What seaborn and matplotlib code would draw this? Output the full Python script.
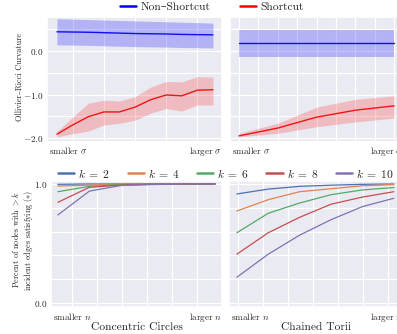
import numpy as np
import pandas as pd
import matplotlib
matplotlib.use("Agg")
import matplotlib.pyplot as plt
from matplotlib.lines import Line2D
import seaborn as sns

# ---------------- data ----------------
# top-left: Ollivier-Ricci curvature, 11 sigma steps
tl_idx = list(range(11))
tl_non_mean = [0.44, 0.435, 0.43, 0.42, 0.41, 0.40, 0.395, 0.39, 0.38, 0.375, 0.37]
tl_non_hi = [0.74, 0.73, 0.72, 0.71, 0.70, 0.69, 0.68, 0.67, 0.66, 0.65, 0.64]
tl_non_lo = [0.14, 0.135, 0.13, 0.12, 0.11, 0.10, 0.095, 0.09, 0.08, 0.075, 0.07]
tl_sc_mean = [-1.91, -1.70, -1.51, -1.40, -1.40, -1.29, -1.12, -1.01, -1.03, -0.90, -0.89]
tl_sc_hi = [-1.85, -1.52, -1.20, -1.13, -1.15, -1.05, -0.83, -0.70, -0.71, -0.59, -0.60]
tl_sc_lo = [-1.97, -1.90, -1.84, -1.70, -1.66, -1.59, -1.43, -1.32, -1.38, -1.24, -1.24]

# top-right: 5 sigma steps
tr_idx = list(range(5))
tr_non_mean = [0.18, 0.18, 0.18, 0.18, 0.18]
tr_non_hi = [0.48, 0.48, 0.48, 0.48, 0.48]
tr_non_lo = [-0.14, -0.14, -0.14, -0.14, -0.14]
tr_sc_mean = [-1.95, -1.77, -1.52, -1.36, -1.26]
tr_sc_hi = [-1.89, -1.66, -1.29, -1.11, -1.03]
tr_sc_lo = [-1.97, -1.89, -1.74, -1.63, -1.54]

# bottom: percent of nodes, 6 n steps
n_idx = list(range(6))
k_values = [2, 4, 6, 8, 10]
circles = {
    2: [0.997, 1.0, 1.0, 1.0, 1.0, 1.0],
    4: [0.983, 0.99, 1.0, 1.0, 1.0, 1.0],
    6: [0.935, 0.98, 0.995, 1.0, 1.0, 1.0],
    8: [0.846, 0.972, 0.99, 0.998, 1.0, 1.0],
    10: [0.74, 0.94, 0.987, 0.995, 1.0, 1.0],
}
torii = {
    2: [0.916, 0.957, 0.98, 0.99, 0.997, 1.0],
    4: [0.773, 0.868, 0.935, 0.96, 0.985, 0.995],
    6: [0.59, 0.754, 0.84, 0.91, 0.95, 0.97],
    8: [0.41, 0.59, 0.72, 0.83, 0.89, 0.935],
    10: [0.216, 0.41, 0.57, 0.70, 0.81, 0.88],
}
series_labels = ["Non\u2013Shortcut", "Shortcut"]
panel_titles = ["Concentric Circles", "Chained Torii"]

# ---------------- style ----------------
sns.set_theme(style="darkgrid")
plt.rcParams["font.family"] = ["cmr10", "DejaVu Serif"]
plt.rcParams["mathtext.fontset"] = "cm"
plt.rcParams["axes.unicode_minus"] = False
plt.rcParams["grid.linewidth"] = 0.9

W, H = 397, 334
fig = plt.figure(figsize=(W / 100, H / 100), dpi=100)


def ax_px(x0, x1, y0, y1):
    return fig.add_axes([x0 / W, 1 - y1 / H, (x1 - x0) / W, (y1 - y0) / H])


ax_tl = ax_px(47, 222, 17, 142)
ax_tr = ax_px(230, 403, 17, 142)
ax_bl = ax_px(51, 222, 181, 307)
ax_br = ax_px(229, 403, 181, 307)

TICK_FS = 6.6
BLUE = "#1010ee"
RED = "#ee1515"


def band_panel(ax, x, nm, nh, nl, sm, sh, sl):
    ax.fill_between(x, nl, nh, color="blue", alpha=0.24, lw=0)
    ax.fill_between(x, sl, sh, color="red", alpha=0.2, lw=0)
    sns.lineplot(x=x, y=nm, ax=ax, color=BLUE, lw=1.0)
    sns.lineplot(x=x, y=sm, ax=ax, color=RED, lw=1.0)
    ax.set_ylim(-2.09, 0.78)
    ax.set_yticks(np.arange(-2.0, 0.51, 0.5))


band_panel(ax_tl, tl_idx, tl_non_mean, tl_non_hi, tl_non_lo, tl_sc_mean, tl_sc_hi, tl_sc_lo)
band_panel(ax_tr, tr_idx, tr_non_mean, tr_non_hi, tr_non_lo, tr_sc_mean, tr_sc_hi, tr_sc_lo)

ax_tl.set_xlim(-0.64, 10.58)
ax_tl.set_xticks([1, 3, 5, 7, 9])
ax_tr.set_xlim(-0.23, 4.23)
ax_tr.set_xticks(np.arange(0, 4.01, 0.5))

ax_tl.set_yticklabels([r"$-2.0$", "", r"$-1.0$", "", r"$0.0$", ""], fontsize=TICK_FS)
ax_tr.set_yticklabels([])

palette = sns.color_palette("deep", 5)
for ax, data in [(ax_bl, circles), (ax_br, torii)]:
    for i, k in enumerate(k_values):
        sns.lineplot(x=n_idx, y=data[k], ax=ax, color=palette[i], lw=0.9)
    ax.set_ylim(-0.034, 1.025)
    ax.set_yticks(np.arange(0, 1.01, 0.2))

ax_bl.set_xlim(-0.22, 5.22)
ax_bl.set_xticks([0.446, 1.24, 2.04, 2.83, 3.63, 4.43])
ax_br.set_xlim(-0.25, 5.29)
ax_br.set_xticks([0.03, 0.83, 1.62, 2.42, 3.22, 4.01, 4.81])
ax_bl.set_yticklabels([r"$0.0$", "", "", "", "", r"$1.0$"], fontsize=TICK_FS)
ax_br.set_yticklabels([])

for ax in [ax_tl, ax_tr, ax_bl, ax_br]:
    ax.set_xticklabels([])
    ax.tick_params(length=0, pad=2.5)
    ax.set_xlabel("")
    ax.set_ylabel("")

# end labels under each panel
for ax, sym in [(ax_tl, r"\sigma"), (ax_tr, r"\sigma"), (ax_bl, "n"), (ax_br, "n")]:
    off = -0.025 if sym == r"\sigma" else -0.035
    ax.text(0.01, off, "smaller $" + sym + "$", transform=ax.transAxes,
            ha="left", va="top", fontsize=TICK_FS)
    ax.text(1.0, off, "larger $" + sym + "$", transform=ax.transAxes,
            ha="right", va="top", fontsize=TICK_FS)

ax_bl.text(0.5, -0.12, panel_titles[0], transform=ax_bl.transAxes,
           ha="center", va="top", fontsize=8.3)
ax_br.text(0.5, -0.12, panel_titles[1], transform=ax_br.transAxes,
           ha="center", va="top", fontsize=8.3)

fig.text(20 / W, 1 - 77 / H, "Ollivier\u2013Ricci Curvature", rotation=90,
         ha="center", va="center", fontsize=5.9)
fig.text(23 / W, 1 - 240 / H,
         "Percent of nodes with $>k$\nincident edges satisfying ($\\ast$)",
         rotation=90, ha="center", va="center", fontsize=5.9,
         multialignment="center", linespacing=1.1)

# legends
h1 = [Line2D([], [], color="blue", lw=1.8), Line2D([], [], color="red", lw=1.8)]
fig.legend(h1, series_labels, loc="center",
           bbox_to_anchor=(212 / W, 1 - 7 / H), ncol=2, frameon=False,
           fontsize=8.3, handlelength=1.4, handletextpad=0.35,
           columnspacing=2.6, borderpad=0, borderaxespad=0)

h2 = [Line2D([], [], color=palette[i], lw=1.8) for i in range(5)]
fig.legend(h2, [f"$k\\;=\\;{k}$" for k in k_values], loc="center",
           bbox_to_anchor=(226 / W, 1 - 173 / H), ncol=5, frameon=False,
           fontsize=8.3, handlelength=1.4, handletextpad=0.35,
           columnspacing=1.5, borderpad=0, borderaxespad=0)

fig.savefig("out.png", dpi=100)
